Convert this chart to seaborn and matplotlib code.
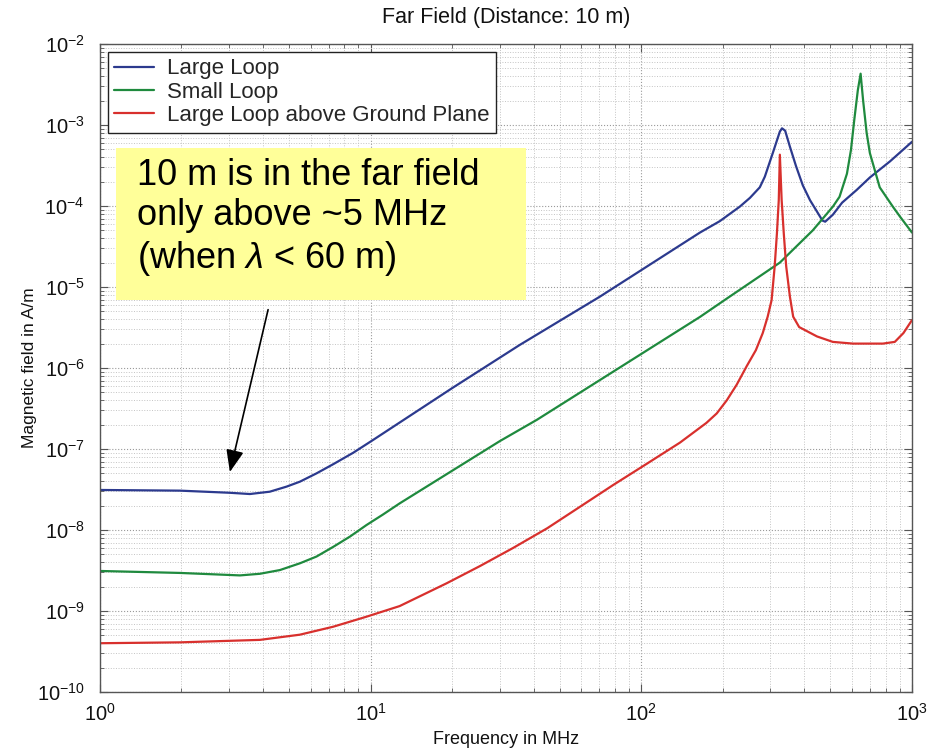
import matplotlib
matplotlib.use("Agg")
import matplotlib.pyplot as plt
import pandas as pd
import seaborn as sns
from matplotlib.patches import Rectangle
from matplotlib.ticker import FixedLocator, LogFormatterSciNotation, NullFormatter

# Magnetic field at 10 m versus frequency (MHz -> A/m)
freq_large = [1, 1.975, 3.02, 3.58, 4.24, 4.89, 5.48, 6.31, 7.28, 8.63, 10.2, 20.1,
              35.5, 70.3, 164.7, 195, 231, 252, 274, 286, 306, 325, 331, 340, 354,
              373, 395, 420, 446, 467, 478, 510, 552, 625, 699, 829, 1000]
field_large = [3.12e-8, 3.06e-8, 2.88e-8, 2.78e-8, 2.97e-8, 3.43e-8, 3.95e-8, 5.0e-8,
               6.5e-8, 9.0e-8, 1.29e-7, 5.7e-7, 1.92e-6, 7.6e-6, 4.7e-5, 6.5e-5,
               9.8e-5, 1.26e-4, 1.7e-4, 2.3e-4, 4.5e-4, 8.3e-4, 9.1e-4, 8.5e-4,
               5.4e-4, 3.1e-4, 1.8e-4, 1.18e-4, 8.5e-5, 6.6e-5, 6.4e-5, 7.8e-5,
               1.1e-4, 1.58e-4, 2.25e-4, 3.55e-4, 6.2e-4]

freq_small = [1, 1.975, 3.29, 3.9, 4.62, 5.48, 6.31, 7.28, 8.39, 9.65, 11.1, 12.8,
              30, 41.2, 164.7, 207, 325, 430, 510, 540, 575, 595, 612, 631, 646,
              660, 680, 699, 760, 850, 903, 1000]
field_small = [3.12e-9, 2.95e-9, 2.75e-9, 2.88e-9, 3.2e-9, 3.88e-9, 4.7e-9, 6.2e-9,
               8.3e-9, 1.15e-8, 1.55e-8, 2.13e-8, 1.25e-7, 2.3e-7, 4.27e-6, 7.2e-6,
               2.0e-5, 5.0e-5, 9.8e-5, 1.3e-4, 2.5e-4, 4.9e-4, 1.15e-3, 2.7e-3,
               4.3e-3, 2.0e-3, 8.0e-4, 4.5e-4, 1.7e-4, 9.8e-5, 7.4e-5, 4.7e-5]

freq_ground = [1, 1.975, 3.9, 5.48, 7.28, 9.65, 12.8, 19.1, 25.4, 33.6, 44.9, 59.3,
               78.8, 105, 139, 174, 190, 207, 225, 245, 265, 281, 293, 303, 311,
               317, 322, 325, 330, 336, 343, 354, 364, 383, 446, 510, 605, 781,
               864, 930, 1000]
field_ground = [4.0e-10, 4.1e-10, 4.4e-10, 5.1e-10, 6.4e-10, 8.5e-10, 1.15e-9,
                2.2e-9, 3.6e-9, 6.0e-9, 1.05e-8, 1.93e-8, 3.6e-8, 6.6e-8, 1.2e-7,
                2.1e-7, 2.75e-7, 4.0e-7, 6.2e-7, 1.05e-6, 1.66e-6, 2.7e-6, 4.3e-6,
                6.9e-6, 1.8e-5, 4.6e-5, 1.18e-4, 4.3e-4, 1.18e-4, 4.6e-5, 1.8e-5,
                7.6e-6, 4.3e-6, 3.2e-6, 2.45e-6, 2.1e-6, 2.0e-6, 2.0e-6, 2.1e-6,
                2.7e-6, 3.9e-6]

series_names = ["Large Loop", "Small Loop", "Large Loop above Ground Plane"]
series_colors = ["#2c3a8e", "#1f8a3e", "#d8302d"]

x_decades = [0, 1, 2, 3]
y_decades = [-10, -9, -8, -7, -6, -5, -4, -3, -2]

frames = []
for name, f, h in zip(series_names,
                      [freq_large, freq_small, freq_ground],
                      [field_large, field_small, field_ground]):
    frames.append(pd.DataFrame({"freq": f, "field": h, "series": name}))
df = pd.concat(frames, ignore_index=True)

sns.set_theme(style="white")
plt.rcParams["font.family"] = ["Liberation Sans", "DejaVu Sans"]
plt.rcParams["mathtext.fontset"] = "custom"
plt.rcParams["mathtext.rm"] = "Liberation Sans"
plt.rcParams["mathtext.it"] = "Liberation Sans:italic"
plt.rcParams["mathtext.bf"] = "Liberation Sans:bold"

fig = plt.figure(figsize=(9.43, 7.52), dpi=100)
ax = fig.add_axes([0.1060, 0.0798, 0.8611, 0.8617])
ax.set_xscale("log")
ax.set_yscale("log")

sns.lineplot(data=df, x="freq", y="field", hue="series", hue_order=series_names,
             palette=series_colors, linewidth=1.6, estimator=None, sort=False,
             ax=ax, legend=False)

ax.set_xlim(10.0 ** x_decades[0], 10.0 ** x_decades[-1])
ax.set_ylim(10.0 ** y_decades[0], 10.0 ** y_decades[-1])


def decade_ticks(decades):
    major = [10.0 ** d for d in decades]
    minor = [m * 10.0 ** d for d in decades[:-1] for m in range(2, 10)]
    return major, minor


xmaj, xmin = decade_ticks(x_decades)
ymaj, ymin = decade_ticks(y_decades)
ax.xaxis.set_major_locator(FixedLocator(xmaj))
ax.xaxis.set_minor_locator(FixedLocator(xmin))
ax.yaxis.set_major_locator(FixedLocator(ymaj))
ax.yaxis.set_minor_locator(FixedLocator(ymin))
ax.xaxis.set_major_formatter(LogFormatterSciNotation())
ax.yaxis.set_major_formatter(LogFormatterSciNotation())
ax.xaxis.set_minor_formatter(NullFormatter())
ax.yaxis.set_minor_formatter(NullFormatter())

ax.grid(True, which="major", linestyle=":", color="#9a9a9a", linewidth=0.8)
ax.grid(True, which="minor", linestyle=":", color="#c4c4c4", linewidth=0.7)
ax.set_axisbelow(True)

ax.tick_params(which="both", direction="in", top=True, right=True,
               bottom=True, left=True, colors="#555555", labelcolor="#111111")
ax.tick_params(which="major", length=6, width=0.8, labelsize=14.5)
ax.tick_params(which="minor", length=3, width=0.6)
ax.tick_params(axis="x", which="major", pad=8)
ax.tick_params(axis="y", which="major", pad=11)
for sp in ax.spines.values():
    sp.set_color("#555555")
    sp.set_linewidth(1.0)

ax.set_xlabel("Frequency in MHz", fontsize=13, labelpad=4, color="#111111")
ax.set_ylabel("Magnetic field in A/m", fontsize=12.5, labelpad=0, color="#111111")
ax.set_title("Far Field (Distance: 10 m)", fontsize=15.5, pad=15, color="#111111")

handles = [plt.Line2D([], [], color=c, linewidth=1.6) for c in series_colors]
leg = ax.legend(handles, series_names, loc="upper left", fontsize=16,
                frameon=True, fancybox=False, framealpha=1, edgecolor="#222222",
                borderaxespad=0.35, handlelength=1.8, handletextpad=0.55,
                labelspacing=0.1, borderpad=0.3)
leg.get_frame().set_linewidth(1.0)

# Note box
box = Rectangle((116 / 943, 1 - 300 / 752), 410 / 943, 152 / 752,
                transform=fig.transFigure, facecolor="#ffff99",
                edgecolor="none", zorder=5)
fig.patches.append(box)
fig.text(137 / 943, 1 - 158 / 752,
         "10 m is in the far field\nonly above ~5 MHz\n(when $\\lambda$ < 60 m)",
         fontsize=26, va="top", ha="left", color="black", linespacing=1.2,
         zorder=6)

ax.annotate("", xy=(3.02, 5.2e-8), xytext=(4.18, 5.25e-6),
            arrowprops=dict(arrowstyle="-|>,head_length=0.45,head_width=0.18",
                            color="black", lw=1.2, mutation_scale=30,
                            shrinkA=0, shrinkB=0))

fig.savefig("out.png", dpi=100)
